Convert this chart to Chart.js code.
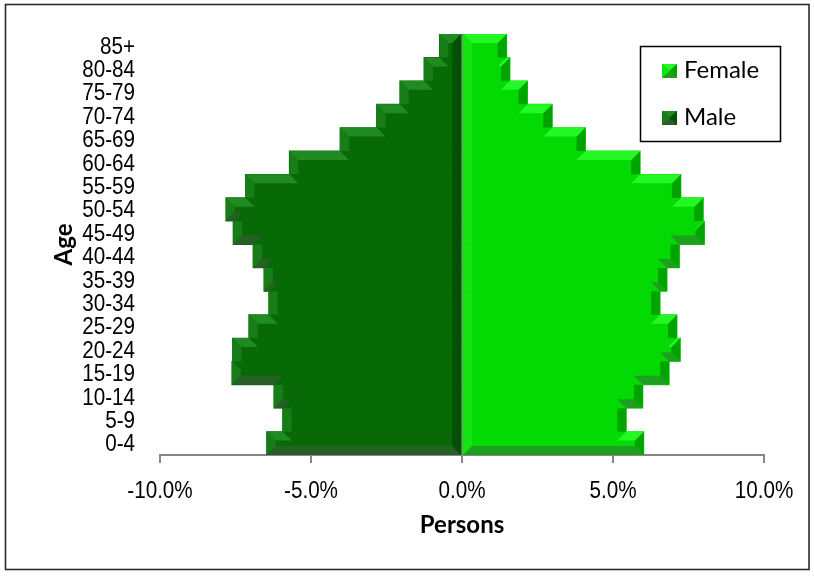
<!DOCTYPE html>
<html>
<head>
<meta charset="utf-8">
<title>Population pyramid</title>
<script src="https://cdn.jsdelivr.net/npm/chart.js@4.4.1/dist/chart.umd.min.js"></script>
<style>
  html, body { margin: 0; padding: 0; background: #ffffff; }
  #wrap { width: 814px; height: 576px; position: relative; }
</style>
</head>
<body>
<div id="wrap"><canvas id="pyramid" width="814" height="576"></canvas></div>
<script>
// Age bands, youngest first (the axis is reversed so 85+ sits on top)
const ageGroups = ['0-4', '5-9', '10-14', '15-19', '20-24', '25-29', '30-34', '35-39', '40-44',
                   '45-49', '50-54', '55-59', '60-64', '65-69', '70-74', '75-79', '80-84', '85+'];

// Share of all persons in each band, in percent
const femaleShare = [6.02, 5.44, 5.99, 6.86, 7.23, 7.12, 6.56, 6.79, 7.20,
                     8.03, 7.99, 7.25, 5.90, 4.09, 2.99, 2.17, 1.59, 1.48];
const maleShare   = [6.47, 5.94, 6.23, 7.62, 7.60, 7.06, 6.40, 6.56, 6.92,
                     7.58, 7.82, 7.17, 5.72, 4.04, 2.83, 2.06, 1.26, 0.75];

// Tick values along the horizontal axis, in percent
const percentTicks = [-10, -5, 0, 5, 10];

// Face colour plus the four bevel shades of each series
const femaleLook = { body: '#03d903', top: '#24f824', left: '#14e314', right: '#00a400', bottom: '#1f9f1f' };
const maleLook   = { body: '#076a07', top: '#208b20', left: '#187c18', right: '#035003', bottom: '#275f27' };

const AXIS_GREY = '#878787';
const BEVEL = 9;
const TICK_FONT = '24px "Liberation Sans", Arial, sans-serif';
const TICK_SQUEEZE = 0.86;   // narrow the tick lettering horizontally

const formatPercent = v => v.toFixed(1) + '%';

// Bevelled edges on every exposed side of each bar
const bevelPlugin = {
  id: 'bevel',
  afterDatasetsDraw(chart) {
    const ctx = chart.ctx;
    chart.data.datasets.forEach((ds, di) => {
      const meta = chart.getDatasetMeta(di);
      if (meta.hidden) return;
      const look = ds.look;
      const bars = meta.data.map(el => {
        const p = el.getProps(['x', 'y', 'base', 'height'], true);
        return { z: p.base, len: Math.abs(p.x - p.base), s: p.x >= p.base ? 1 : -1,
                 t: p.y - p.height / 2, b: p.y + p.height / 2 };
      });
      const order = bars.map((_, i) => i).sort((a, c) => bars[a].t - bars[c].t);
      ctx.save();
      order.forEach((idx, k) => {
        const bar = bars[idx];
        const La = k > 0 ? bars[order[k - 1]].len : 0;
        const Lb = k < order.length - 1 ? bars[order[k + 1]].len : 0;
        const L = bar.len, t = bar.t, b = bar.b, z = bar.z, s = bar.s;
        const X = d => z + s * d;
        const poly = (pts, color) => {
          ctx.beginPath();
          pts.forEach(([d, y], i) => i ? ctx.lineTo(X(d), y) : ctx.moveTo(X(d), y));
          ctx.closePath();
          ctx.fillStyle = color;
          ctx.fill();
        };
        const topExp = L > La + 0.5;
        const botExp = L > Lb + 0.5;
        const outerColor = s > 0 ? look.right : look.left;
        const innerColor = s > 0 ? look.left : look.right;
        const B = Math.min(BEVEL, L / 2);

        // inner strip along the zero line
        poly([[0, t], [B, t + (La === 0 ? B : 0)], [B, b - (Lb === 0 ? B : 0)], [0, b]], innerColor);
        // outer strip
        poly([[L, t], [L, b], [L - B, b - (botExp ? B : 0)], [L - B, t + (topExp ? B : 0)]], outerColor);
        // top face
        if (topExp) {
          const inner = La === 0 ? B : Math.max(La - B, 0);
          poly([[La, t], [L, t], [L - B, t + B], [inner, t + B]], look.top);
        }
        // bottom face
        if (botExp) {
          const inner = Lb === 0 ? B : Math.max(Lb - B, 0);
          poly([[Lb, b], [L, b], [L - B, b - B], [inner, b - B]], look.bottom);
        }
      });
      ctx.restore();
    });
  }
};

// Tick labels in a narrowed face, placed from the scales' own tick positions
function drawNarrow(ctx, text, x, y, align) {
  ctx.save();
  ctx.translate(x, y);
  ctx.scale(TICK_SQUEEZE, 1);
  ctx.textAlign = align;
  ctx.textBaseline = 'alphabetic';
  ctx.fillText(text, 0, 0);
  ctx.restore();
}

const narrowTicksPlugin = {
  id: 'narrowTicks',
  afterDraw(chart) {
    const ctx = chart.ctx;
    const xs = chart.scales.x, ys = chart.scales.y;
    ctx.save();
    ctx.fillStyle = '#000000';
    ctx.font = TICK_FONT;
    ys.ticks.forEach((t, i) => {
      drawNarrow(ctx, ys.getLabelForValue(t.value), ys.right - 25, ys.getPixelForTick(i) + 8, 'right');
    });
    xs.ticks.forEach((t, i) => {
      drawNarrow(ctx, formatPercent(t.value), xs.getPixelForTick(i), xs.top + 43, 'center');
    });
    ctx.restore();
  }
};

// White page with a thin frame round the whole chart
const framePlugin = {
  id: 'frame',
  beforeDraw(chart) {
    const ctx = chart.ctx;
    ctx.save();
    ctx.fillStyle = '#ffffff';
    ctx.fillRect(0, 0, chart.width, chart.height);
    ctx.restore();
  },
  afterDraw(chart) {
    const ctx = chart.ctx;
    ctx.save();
    ctx.strokeStyle = '#2a2a2a';
    ctx.lineWidth = 1.6;
    ctx.strokeRect(5.5, 4.5, 803.5, 565);
    ctx.restore();
  }
};

// Boxed legend in the upper right
const boxLegendPlugin = {
  id: 'boxLegend',
  afterDraw(chart) {
    const ctx = chart.ctx;
    ctx.save();
    ctx.strokeStyle = '#000000';
    ctx.lineWidth = 1.5;
    ctx.strokeRect(640.5, 46.5, 140, 95);
    chart.data.datasets.forEach((ds, i) => {
      const mx = 662, my = 64 + i * 47, w = 15, h = 14;
      const cx = mx + w / 2, cy = my + h / 2;
      const tri = (pts, color) => {
        ctx.beginPath();
        ctx.moveTo(pts[0][0], pts[0][1]);
        ctx.lineTo(pts[1][0], pts[1][1]);
        ctx.lineTo(pts[2][0], pts[2][1]);
        ctx.closePath();
        ctx.fillStyle = color;
        ctx.fill();
      };
      ctx.fillStyle = ds.look.body;
      ctx.fillRect(mx, my, w, h);
      tri([[mx, my], [mx + w, my], [cx, cy]], ds.look.top);
      tri([[mx + w, my], [mx + w, my + h], [cx, cy]], ds.look.right);
      tri([[mx, my + h], [mx + w, my + h], [cx, cy]], ds.look.bottom);
      tri([[mx, my], [mx, my + h], [cx, cy]], ds.look.left);
      ctx.fillStyle = '#000000';
      ctx.font = '24px Lato, "Open Sans", sans-serif';
      ctx.textBaseline = 'alphabetic';
      ctx.textAlign = 'left';
      ctx.fillText(ds.label, 684, my + 14);
    });
    ctx.restore();
  }
};

const datasets = [
  {
    label: 'Female',
    data: femaleShare.slice(),
    backgroundColor: femaleLook.body,
    look: femaleLook
  },
  {
    label: 'Male',
    data: maleShare.map(v => -v),
    backgroundColor: maleLook.body,
    look: maleLook
  }
];

new Chart(document.getElementById('pyramid'), {
  type: 'bar',
  data: { labels: ageGroups, datasets },
  plugins: [framePlugin, bevelPlugin, narrowTicksPlugin, boxLegendPlugin],
  options: {
    indexAxis: 'y',
    responsive: false,
    animation: false,
    devicePixelRatio: 1,
    layout: { padding: { left: 40, right: 50, top: 34, bottom: 21 } },
    datasets: {
      bar: { barPercentage: 1.0, categoryPercentage: 1.0, borderWidth: 0, inflateAmount: 0.4 }
    },
    plugins: {
      legend: { display: false },
      tooltip: { enabled: false },
      title: { display: false }
    },
    scales: {
      x: {
        stacked: true,
        min: -10,
        max: 10,
        z: 1,
        afterBuildTicks: scale => { scale.ticks = percentTicks.map(v => ({ value: v })); },
        afterFit: scale => { scale.height = 100; },
        border: { display: true, color: AXIS_GREY, width: 2 },
        grid: {
          drawOnChartArea: true,
          color: c => (c.tick && c.tick.value === 0 ? AXIS_GREY : 'rgba(0,0,0,0)'),
          lineWidth: 2,
          tickColor: AXIS_GREY,
          tickWidth: 2,
          tickLength: 8
        },
        ticks: { display: false, autoSkip: false, maxRotation: 0, callback: formatPercent },
        title: {
          display: true,
          text: 'Persons',
          color: '#000000',
          font: { family: 'Lato, "Open Sans", sans-serif', size: 24, weight: 'bold', lineHeight: 1.2 },
          padding: { top: 0, bottom: 15 }
        }
      },
      y: {
        stacked: true,
        reverse: true,
        afterFit: scale => { scale.width = 120; },
        border: { display: false },
        grid: { display: false, drawTicks: false },
        ticks: { display: false, autoSkip: false },
        title: {
          display: true,
          text: 'Age',
          color: '#000000',
          font: { family: 'Lato, "Open Sans", sans-serif', size: 24, weight: 'bold', lineHeight: 1.2 },
          padding: { top: 10, bottom: 0 }
        }
      }
    }
  }
});
</script>
</body>
</html>
